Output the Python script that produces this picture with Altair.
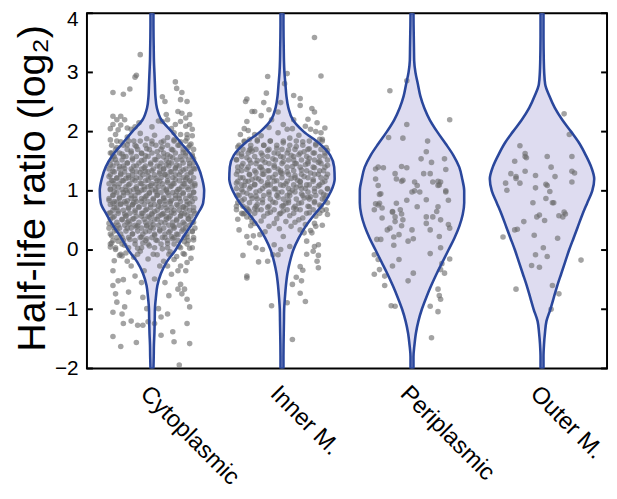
import json
import altair as alt
import pandas as pd

CATEGORIES = ["Cytoplasmic", "Inner M.", "Periplasmic", "Outer M."]

# y levels (log2 ratio) at which the violin half-widths were read
VIOLIN_LEVELS = [-2.0, -1.8, -1.6, -1.4, -1.2, -1.0, -0.8, -0.6, -0.4, -0.2,
                 0.0, 0.2, 0.4, 0.6, 0.8, 1.0, 1.2, 1.4, 1.6, 1.8,
                 2.0, 2.2, 2.4, 2.6, 2.8, 3.0, 3.2, 3.4, 3.6, 3.8, 4.0]
# violin half-widths (density, in 1/132 of a category slot)
CYTO_WIDTH = [1.5, 1.8, 2.0, 2.5, 2.8, 3.0, 4.0, 5.5, 9.0, 15.0,
              24.0, 31.0, 39.0, 46.0, 52.0, 53.0, 51.0, 47.0, 40.0, 30.0,
              20.0, 9.5, 5.0, 3.5, 3.0, 2.5, 2.0, 1.8, 1.6, 1.5, 1.5]
INNER_WIDTH = [1.5, 1.5, 1.6, 1.8, 2.0, 2.2, 3.0, 4.0, 5.5, 8.0,
               11.5, 17.0, 24.0, 33.0, 43.0, 50.0, 53.5, 53.0, 49.0, 38.0,
               22.0, 11.0, 6.5, 4.5, 3.5, 2.5, 2.0, 1.8, 1.6, 1.5, 1.5]
PERI_WIDTH = [1.5, 1.5, 2.5, 4.0, 6.5, 10.0, 14.5, 19.5, 25.0, 31.0,
              37.0, 43.0, 48.0, 51.5, 53.0, 53.0, 51.0, 48.0, 42.0, 34.0,
              25.5, 18.0, 12.5, 8.5, 6.0, 3.5, 2.2, 2.0, 1.8, 1.6, 1.5]
OUTER_WIDTH = [1.5, 1.5, 2.0, 3.0, 4.5, 8.5, 12.0, 15.5, 19.5, 23.5,
               27.5, 32.0, 36.5, 41.0, 46.0, 51.0, 53.0, 50.0, 44.5, 38.0,
               29.5, 20.5, 13.0, 7.5, 3.2, 2.2, 1.8, 1.6, 1.5, 1.5, 1.5]

# points: (horizontal jitter in % of slot, half-life ratio log2)
CYTO_POINTS = [
    (-9, 3.30), (-12, 2.95), (-13, 2.92), (-30, 2.66), (-22, 2.63), (-17, 2.72), (18, 2.84), (19, 2.73),
    (23, 2.66), (8, 2.59), (10, 2.51), (22, 2.54), (27, 2.51),
    (-30, 2.26), (-27, 2.20), (-24, 2.26), (-30, 2.12), (-24, 2.11), (-21, 2.20), (-19, 2.06), (-16, 2.04),
    (-13, 2.08), (11, 2.29), (12, 2.20), (8, 2.17), (20, 2.34), (23, 2.31), (26, 2.23), (29, 2.29),
    (18, 2.12), (26, 2.09), (29, 2.12), (31, 2.04), (17, 1.98), (22, 1.95), (27, 1.95),
    (-26, 2.03), (-10, 2.15), (0, 2.08), (15, 2.05), (22, 2.17), (-32, 2.05), (5, 2.18),
    (-32, 1.86), (-28, 1.95), (-24, 1.83), (-19, 1.91), (-14, 1.84), (-9, 1.97), (-4, 1.88), (2, 1.94),
    (7, 1.82), (12, 1.90), (17, 1.86), (22, 1.83), (27, 1.89), (31, 1.93),
    (-31, 1.64), (-27, 1.73), (-23, 1.62), (-19, 1.78), (-16, 1.67), (-12, 1.75), (-8, 1.63), (-4, 1.71),
    (0, 1.79), (4, 1.66), (8, 1.74), (12, 1.61), (16, 1.69), (20, 1.77), (24, 1.65), (28, 1.73),
    (31, 1.61), (30, 1.79),
    (-32, 1.44), (-28, 1.53), (-25, 1.41), (-22, 1.58), (-19, 1.47), (-15, 1.55), (-12, 1.42), (-8, 1.51),
    (-5, 1.59), (-1, 1.45), (2, 1.53), (6, 1.41), (9, 1.57), (13, 1.48), (16, 1.56), (19, 1.43),
    (23, 1.52), (26, 1.59), (29, 1.46), (32, 1.54), (-30, 1.59), (11, 1.44),
    (-33, 1.24), (-30, 1.33), (-27, 1.21), (-24, 1.29), (-21, 1.38), (-18, 1.26), (-15, 1.34), (-12, 1.22),
    (-9, 1.31), (-6, 1.39), (-3, 1.25), (0, 1.34), (3, 1.21), (6, 1.29), (9, 1.37), (12, 1.24),
    (15, 1.32), (18, 1.39), (21, 1.27), (24, 1.35), (27, 1.22), (30, 1.30), (32, 1.38), (-20, 1.21),
    (10, 1.28), (-5, 1.33),
    (-32, 1.03), (-29, 1.12), (-26, 1.06), (-23, 1.17), (-20, 1.01), (-18, 1.10), (-15, 1.19), (-12, 1.04),
    (-9, 1.13), (-6, 1.07), (-3, 1.18), (0, 1.02), (3, 1.11), (6, 1.16), (9, 1.05), (12, 1.14),
    (15, 1.08), (18, 1.19), (21, 1.03), (24, 1.12), (27, 1.06), (30, 1.15), (33, 1.09), (-31, 1.18),
    (-17, 1.00), (-1, 1.09), (11, 1.00), (26, 1.19), (-8, 1.01), (16, 1.12),
    (-33, 0.84), (-30, 0.93), (-27, 0.81), (-25, 0.89), (-22, 0.97), (-19, 0.83), (-16, 0.92), (-13, 0.86),
    (-11, 0.98), (-8, 0.82), (-5, 0.90), (-2, 0.96), (1, 0.85), (4, 0.93), (6, 0.81), (9, 0.89),
    (12, 0.97), (15, 0.84), (18, 0.92), (21, 0.87), (24, 0.95), (27, 0.82), (30, 0.90), (32, 0.98),
    (-29, 0.99), (-14, 0.80), (3, 0.99), (19, 0.99), (-6, 0.86), (10, 0.83),
    (-32, 0.63), (-29, 0.72), (-26, 0.66), (-24, 0.78), (-21, 0.61), (-18, 0.70), (-15, 0.76), (-13, 0.64),
    (-10, 0.73), (-7, 0.62), (-4, 0.69), (-1, 0.77), (2, 0.65), (5, 0.74), (8, 0.61), (11, 0.71),
    (14, 0.79), (17, 0.67), (20, 0.75), (23, 0.62), (26, 0.70), (29, 0.78), (32, 0.66), (-30, 0.79),
    (0, 0.60), (15, 0.63), (-20, 0.79), (24, 0.73),
    (-33, 0.45), (-30, 0.55), (-26, 0.42), (-23, 0.51), (-20, 0.58), (-17, 0.44), (-14, 0.53), (-11, 0.41),
    (-8, 0.57), (-5, 0.47), (-2, 0.55), (1, 0.43), (4, 0.52), (7, 0.59), (10, 0.46), (13, 0.54),
    (16, 0.41), (19, 0.50), (22, 0.58), (25, 0.44), (28, 0.53), (31, 0.47), (-18, 0.49), (11, 0.56),
    (-4, 0.40), (27, 0.59),
    (-31, 0.24), (-27, 0.33), (-23, 0.21), (-19, 0.37), (-15, 0.27), (-12, 0.39), (-8, 0.22), (-5, 0.31),
    (-1, 0.38), (2, 0.25), (6, 0.34), (10, 0.21), (13, 0.30), (17, 0.39), (20, 0.26), (24, 0.35),
    (27, 0.22), (31, 0.31), (-29, 0.38), (15, 0.23),
    (-32, 0.05), (-26, 0.15), (-21, 0.08), (-17, 0.18), (-11, 0.03), (-7, 0.12), (-2, 0.07), (3, 0.17),
    (8, 0.02), (12, 0.11), (16, 0.19), (21, 0.06), (25, 0.14), (29, 0.03), (32, 0.17), (-4, 0.19),
    (-29, -0.18), (-20, -0.05), (-14, -0.12), (-9, -0.02), (-3, -0.15), (4, -0.08), (9, -0.19), (14, -0.03),
    (19, -0.11), (24, -0.06), (30, -0.14), (-25, -0.09),
    (-31, 0.12), (-28, 0.01), (-23, -0.10), (-19, -0.19), (-16, -0.27), (-13, -0.44), (-8, -0.55), (-6, -0.35),
    (2, -0.49), (6, -0.27), (10, -0.55), (12, -0.27),
    (-30, -0.35), (-26, -0.52), (-22, -0.50), (-30, -0.60), (-28, -0.74), (-27, -0.88), (-30, -1.05), (-23, -1.08),
    (-22, -1.24), (-30, -1.46), (-24, -1.63), (-18, -0.71), (-21, -0.96), (-16, -1.20), (-12, -1.56), (-11, -1.27),
    (-7, -1.27), (-7, -0.80), (-4, -0.99), (-3, -1.21), (2, -1.24), (5, -0.99), (7, -1.13), (7, -1.44),
    (13, -0.77), (12, -1.08), (16, -1.38), (17, -1.55), (22, -0.58), (20, -0.66), (25, -0.66), (23, -0.74),
    (27, -0.83), (29, -0.96), (27, -1.24), (29, -1.58), (21, -1.94), (15, -0.41), (20, -0.35), (26, -0.35),
    (22, -0.27), (27, -0.21), (17, -0.16),
]
# the solid core of the Cytoplasmic cloud: (log2 ratio, [jitter, ...])
CYTO_CORE_ROWS = [
    (-0.07, [-24, -11, 1, 13, 25]),
    (0.04, [-28, -18, -8, 2, 12, 22, 31]),
    (0.10, [-32, -23, -13, -3, 7, 17, 27]),
    (0.16, [-30, -22, -13, -5, 4, 12, 20, 28]),
    (0.21, [-27, -18, -9, 0, 8, 17, 25, 32]),
    (0.27, [-32, -24, -15, -7, 2, 10, 19, 27]),
    (0.32, [-29, -20, -11, -2, 6, 14, 23, 31]),
    (0.37, [-33, -25, -16, -8, 1, 9, 17, 26, 33]),
    (0.42, [-30, -21, -13, -4, 5, 13, 21, 29]),
    (0.47, [-27, -19, -10, -1, 7, 16, 24, 32]),
    (0.52, [-32, -23, -15, -6, 2, 11, 19, 28]),
    (0.57, [-29, -20, -12, -3, 5, 14, 22, 30]),
    (0.62, [-33, -26, -17, -8, 0, 9, 17, 25, 33]),
    (0.67, [-30, -22, -13, -5, 4, 12, 21, 29]),
    (0.72, [-27, -18, -10, -1, 7, 15, 24, 32]),
    (0.77, [-32, -24, -15, -6, 2, 10, 19, 27]),
    (0.82, [-29, -21, -12, -3, 6, 14, 22, 31]),
    (0.87, [-33, -25, -16, -8, 1, 9, 18, 26, 33]),
    (0.92, [-30, -22, -13, -4, 4, 13, 21, 29]),
    (0.97, [-27, -19, -10, -2, 7, 16, 24, 32]),
    (1.02, [-32, -23, -14, -6, 3, 11, 20, 28]),
    (1.07, [-29, -20, -12, -3, 5, 14, 23, 31]),
    (1.12, [-33, -25, -17, -8, 0, 8, 17, 25, 33]),
    (1.17, [-30, -22, -13, -5, 4, 12, 21, 29]),
    (1.22, [-27, -18, -9, -1, 7, 16, 24, 32]),
    (1.27, [-32, -24, -15, -7, 2, 10, 18, 27]),
    (1.32, [-29, -21, -12, -3, 6, 14, 22, 30]),
    (1.37, [-33, -25, -16, -8, 1, 9, 18, 26, 33]),
    (1.42, [-30, -22, -14, -5, 4, 13, 21, 29]),
    (1.47, [-27, -19, -10, -1, 7, 15, 24, 32]),
    (1.52, [-31, -23, -15, -6, 3, 11, 19, 28]),
    (1.58, [-29, -20, -12, -3, 5, 14, 22, 31]),
    (1.64, [-32, -25, -16, -8, 0, 9, 18, 26]),
    (1.70, [-28, -19, -11, -2, 7, 15, 24, 32]),
    (1.77, [-31, -22, -13, -5, 3, 12, 21, 29]),
    (1.84, [-27, -18, -9, 0, 9, 17, 26]),
]

INNER_POINTS = [
    (25, 3.59), (-11, 2.93), (4, 2.98), (30, 2.94), (2, 2.81), (-12, 2.65), (-27, 2.55), (9, 2.61),
    (14, 2.56), (-14, 2.49), (-1, 2.49), (14, 2.44), (-23, 2.34), (-21, 2.34), (23, 2.39), (25, 2.33),
    (-10, 2.37), (-3, 2.33), (-27, 2.17), (-29, 2.05), (20, 2.21), (27, 2.15), (22, 2.04), (30, 1.98),
    (1, 2.12), (9, 2.20), (-16, 2.27), (-8, 2.20), (8, 2.05), (-21, 1.95), (29, 1.87), (-25, 1.87),
    (-28, 2.51),
    (-32, 1.95), (-26, 2.02), (-16, 1.93), (-10, 2.07), (-3, 1.98), (4, 2.04), (13, 1.94), (18, 2.09),
    (26, 2.00), (33, 2.06),
    (-34, 1.74), (-29, 1.83), (-24, 1.71), (-19, 1.86), (-14, 1.77), (-9, 1.84), (-4, 1.72), (1, 1.81),
    (6, 1.89), (11, 1.75), (16, 1.83), (21, 1.71), (26, 1.79), (31, 1.87), (34, 1.73),
    (-35, 1.53), (-31, 1.62), (-27, 1.56), (-23, 1.67), (-19, 1.51), (-15, 1.60), (-11, 1.68), (-7, 1.54),
    (-3, 1.63), (1, 1.57), (5, 1.69), (9, 1.52), (13, 1.61), (17, 1.66), (21, 1.55), (25, 1.64),
    (29, 1.50), (33, 1.59), (-25, 1.69), (7, 1.60), (35, 1.68),
    (-34, 1.33), (-31, 1.42), (-27, 1.36), (-24, 1.47), (-20, 1.31), (-17, 1.40), (-13, 1.48), (-10, 1.34),
    (-6, 1.43), (-3, 1.37), (1, 1.49), (4, 1.32), (8, 1.41), (11, 1.46), (15, 1.35), (18, 1.44),
    (22, 1.30), (25, 1.39), (28, 1.48), (32, 1.34), (35, 1.43), (-1, 1.31), (20, 1.49), (-15, 1.35),
    (-35, 1.13), (-32, 1.22), (-28, 1.16), (-25, 1.27), (-21, 1.11), (-18, 1.20), (-14, 1.28), (-11, 1.14),
    (-7, 1.23), (-4, 1.17), (0, 1.29), (3, 1.12), (7, 1.21), (10, 1.26), (14, 1.15), (17, 1.24),
    (21, 1.10), (24, 1.19), (28, 1.28), (31, 1.14), (34, 1.23), (-9, 1.10), (12, 1.18), (-23, 1.19),
    (-34, 0.93), (-31, 1.02), (-27, 0.96), (-24, 1.07), (-20, 0.91), (-17, 1.00), (-13, 1.08), (-10, 0.94),
    (-6, 1.03), (-3, 0.97), (1, 1.09), (4, 0.92), (8, 1.01), (11, 1.06), (15, 0.95), (18, 1.04),
    (22, 0.90), (25, 0.99), (28, 1.08), (32, 0.94), (35, 1.03), (-29, 1.09), (6, 0.97), (14, 1.09),
    (-35, 0.74), (-31, 0.83), (-27, 0.71), (-23, 0.87), (-19, 0.77), (-15, 0.85), (-11, 0.72), (-7, 0.81),
    (-3, 0.89), (1, 0.75), (5, 0.84), (9, 0.71), (13, 0.79), (17, 0.88), (21, 0.73), (25, 0.82),
    (29, 0.76), (33, 0.86), (-21, 0.70), (3, 0.79), (20, 0.89),
    (-34, 0.52), (-30, 0.61), (-24, 0.55), (-19, 0.68), (-14, 0.57), (-9, 0.64), (-4, 0.53), (1, 0.66),
    (6, 0.58), (11, 0.69), (16, 0.54), (21, 0.63), (26, 0.57), (31, 0.67), (35, 0.60), (-2, 0.61),
    (13, 0.51),
    (-33, 0.34), (-24, 0.41), (-2, 0.36), (10, 0.47), (22, 0.33), (31, 0.42), (-16, 0.49),
    (-27, 0.56), (-23, 0.48), (-21, 0.45), (-25, 0.65), (-29, 0.62),
    (-13, 0.31), (-10, 0.40), (-6, 0.45), (3, 0.48), (7, 0.40), (14, 0.34), (18, 0.43),
    (17, 0.29), (23, 0.29), (26, 0.40), (25, 0.45), (28, 0.09), (25, 0.06), (19, 0.15),
    (-20, 0.04), (-15, 0.01), (-25, 0.12), (-27, 0.23), (-22, 0.24), (-17, 0.26), (-6, 0.09), (1, 0.23),
    (6, 0.06), (-1, 0.01), (-7, -0.08), (-3, -0.08),
    (-30, -0.09), (-18, -0.20), (-11, -0.19), (27, -0.19), (28, -0.30), (14, -0.28), (16, -0.34), (19, -0.07),
    (24, -0.02), (28, -0.09),
    (-27, -0.44), (-27, -0.47), (8, -0.58), (15, -0.52), (11, -0.46),
    (-8, -0.94), (4, -0.89), (18, -0.87), (14, -0.73), (8, -1.51),
]
# the dense core of the Inner M. cloud: (log2 ratio, [jitter, ...])
INNER_CORE_ROWS = [
    (0.62, [-31, -21, -11, -1, 9, 19, 29]),
    (0.68, [-35, -26, -16, -6, 4, 14, 24, 34]),
    (0.74, [-30, -20, -10, 0, 10, 20, 30]),
    (0.80, [-34, -25, -15, -5, 5, 15, 25, 35]),
    (0.86, [-29, -19, -9, 1, 11, 21, 31]),
    (0.92, [-33, -24, -14, -4, 6, 16, 26, 34]),
    (0.98, [-30, -20, -10, 0, 10, 20, 30]),
    (1.04, [-35, -25, -15, -5, 5, 15, 25, 35]),
    (1.10, [-31, -21, -11, -1, 9, 19, 29]),
    (1.16, [-34, -26, -16, -6, 4, 14, 24, 33]),
    (1.22, [-30, -20, -10, 0, 10, 20, 30]),
    (1.28, [-35, -25, -15, -5, 5, 15, 25, 35]),
    (1.34, [-31, -21, -11, -1, 9, 19, 29]),
    (1.40, [-34, -26, -16, -6, 4, 14, 24, 33]),
    (1.46, [-30, -20, -10, 0, 10, 20, 30]),
    (1.52, [-35, -25, -15, -5, 5, 15, 25, 35]),
    (1.58, [-31, -21, -11, -1, 9, 19, 29]),
    (1.64, [-34, -26, -16, -6, 4, 14, 24, 33]),
    (1.70, [-30, -20, -10, 0, 10, 20, 30]),
    (1.77, [-33, -24, -14, -4, 6, 16, 26]),
    (1.84, [-29, -19, -9, 1, 11, 21, 31]),
]

PERI_POINTS = [
    (-4, 2.86), (-17, 2.69), (29, 2.20), (-18, 1.90), (-7, 1.89), (12, 1.84), (15, 1.48), (25, 1.54),
    (7, 1.54), (-26, 1.40), (-28, 1.37), (-13, 1.29), (-8, 1.41), (-7, 1.18), (2, 1.15), (4, 1.09),
    (9, 1.29), (14, 1.29), (16, 1.15), (22, 1.15), (20, 1.09), (26, 0.98), (28, 0.84), (0, 0.98),
    (6, 0.98), (11, 0.85), (-28, 1.20), (-26, 1.09), (-24, 0.95), (-28, 0.78), (-29, 0.68), (-26, 0.76),
    (-15, 0.64), (-13, 0.56), (-8, 0.61), (-4, 0.84), (4, 0.73), (11, 0.56), (16, 0.56), (19, 0.65),
    (20, 0.73), (-23, 0.54), (-19, 0.34), (-17, 0.37), (-13, 0.48), (-8, 0.41), (-7, 0.51), (0, 0.34),
    (11, 0.45), (14, 0.34), (22, 0.51), (28, 0.43), (29, 0.37), (-27, 0.18), (-24, 0.18), (-14, 0.22),
    (-10, 0.26), (-3, 0.15), (1, 0.19), (21, 0.23), (22, 0.04), (-14, 0.08), (-29, -0.08), (-26, -0.16),
    (-15, -0.27), (-10, -0.16), (14, -0.06), (23, -0.23), (29, -0.15), (-29, -0.41), (-21, -0.44),
    (1, -0.39), (-3, -0.52), (22, -0.33), (25, -0.39), (-21, -0.60), (20, -0.66), (21, -0.77),
    (-16, -0.94), (-13, -0.95), (14, -0.95), (20, -1.04), (15, -1.48),
    (-4, 2.12), (11, 1.66), (26, 1.36), (-22, 1.39), (-4, 1.39), (-12, 1.20), (-8, 1.16), (20, 1.16),
    (21, 1.10), (26, 1.00), (-25, 0.94), (2, 1.00), (-25, 0.79), (-12, 0.79), (-23, 0.71), (-15, 0.65),
    (-9, 0.68), (-25, -0.33), (22, -0.83),
]

OUTER_POINTS = [
    (17, 2.30), (21, 1.95), (-17, 1.76), (-13, 1.63), (-12, 1.56), (-21, 1.50), (4, 1.58), (23, 1.58),
    (7, 1.40), (23, 1.33), (25, 1.30), (-24, 1.29), (-20, 1.24), (-17, 1.13), (-28, 1.13), (-27, 1.01),
    (-13, 1.33), (-5, 1.26), (3, 1.11), (10, 1.24), (23, 1.15), (6, 0.99), (3, 0.87), (-7, 0.80),
    (8, 0.80), (-2, 0.59), (-4, 0.56), (2, 0.50), (13, 0.58), (17, 0.64), (18, 0.61), (-14, 0.48),
    (-19, 0.35), (-21, 0.34), (-6, 0.25), (-30, 0.22), (12, 0.20), (1, 0.04), (-5, -0.08), (4, -0.11),
    (-8, -0.26), (-2, -0.29), (30, -0.17), (-20, -0.66), (8, -0.60), (13, -0.74), (7, -1.00),
    (-13, 1.58), (-5, 1.05), (-20, 1.21), (9, 0.80), (4, 1.09), (16, 0.56),
]

Y_TICKS = [-2, -1, 0, 1, 2, 3, 4]

# ---------------------------------------------------------------- tables
SLOT_DENSITY = 132.0  # density units per category slot


def expand(rows):
    return [(j, y) for y, js in rows for j in js]


violin_rows, point_rows = [], []
for k, (name, widths, pts) in enumerate(zip(
        CATEGORIES,
        [CYTO_WIDTH, INNER_WIDTH, PERI_WIDTH, OUTER_WIDTH],
        [CYTO_POINTS + expand(CYTO_CORE_ROWS), INNER_POINTS + expand(INNER_CORE_ROWS),
         PERI_POINTS, OUTER_POINTS])):
    c = k + 0.5
    for y, w in zip(VIOLIN_LEVELS, widths):
        violin_rows.append({"cat": name, "y": y,
                            "left": c - w / SLOT_DENSITY, "right": c + w / SLOT_DENSITY})
    for j, y in pts:
        point_rows.append({"cat": name, "x": c + j / 100.0, "y": y})

violins = pd.DataFrame(violin_rows)
points = pd.DataFrame(point_rows)
ticks = pd.DataFrame({"t": Y_TICKS})

W, H = 527, 360
FONT = "Liberation Sans"
label_expr = json.dumps(CATEGORIES) + "[floor(datum.value)]"

x_scale = alt.Scale(domain=[0, 4], nice=False, zero=False)
y_scale = alt.Scale(domain=[-2, 4], nice=False, zero=False)
x_axis = alt.Axis(values=[0.5, 1.5, 2.5, 3.5], labelExpr=label_expr, labelAngle=45,
                  labelAlign="left", labelBaseline="top", labelPadding=13,
                  labelFontSize=24, labelFont=FONT, labelColor="black",
                  ticks=False, domain=False, grid=False, title="")
y_axis = alt.Axis(values=Y_TICKS, labelFontSize=21, labelFont=FONT, labelColor="black",
                  labelPadding=9, ticks=False, domain=False, grid=False,
                  labelOffset={"condition": {"test": "datum.value == 4", "value": 6}, "value": 0},
                  title="Half-life ratio (log₂)", titleFont=FONT, titleFontSize=40,
                  titleFontWeight="normal", titleColor="black", titleAngle=270,
                  titleAlign="center", titleBaseline="alphabetic", titleX=-43, titleY=177)

fill = alt.Chart(violins).mark_area(orient="horizontal", interpolate="monotone",
                                    color="#dedcf0", clip=True).encode(
    y=alt.Y("y:Q", scale=y_scale, axis=y_axis),
    x=alt.X("left:Q", scale=x_scale, axis=x_axis),
    x2="right:Q",
    detail="cat:N",
)

dots = alt.Chart(points).mark_circle(size=32, color="#6a6a6a", opacity=0.62, clip=True).encode(
    x=alt.X("x:Q", scale=x_scale, axis=x_axis),
    y=alt.Y("y:Q", scale=y_scale, axis=y_axis),
)

outline = alt.Chart(violins).mark_area(orient="horizontal", interpolate="monotone",
                                       fillOpacity=0, stroke="#2a479c", strokeWidth=2.6,
                                       clip=True).encode(
    y=alt.Y("y:Q", scale=y_scale, axis=y_axis),
    x=alt.X("left:Q", scale=x_scale, axis=x_axis),
    x2="right:Q",
    detail="cat:N",
)

left_ticks = alt.Chart(ticks).mark_rule(color="black", strokeWidth=2).encode(
    y=alt.Y("t:Q", scale=y_scale, axis=y_axis),
    x=alt.value(0), x2=alt.value(6),
)
right_ticks = alt.Chart(ticks).mark_rule(color="black", strokeWidth=2).encode(
    y=alt.Y("t:Q", scale=y_scale, axis=y_axis),
    x=alt.value(W - 6), x2=alt.value(W),
)

chart = alt.layer(fill, dots, outline, left_ticks, right_ticks).properties(
    width=W, height=H,
    autosize=alt.AutoSizeParams(type="none"),
    padding={"left": 80, "top": 2, "right": 2, "bottom": 129},
).configure_view(stroke="black", strokeWidth=2)

chart.save("out.html", embed_options={"renderer": "svg", "actions": False})
